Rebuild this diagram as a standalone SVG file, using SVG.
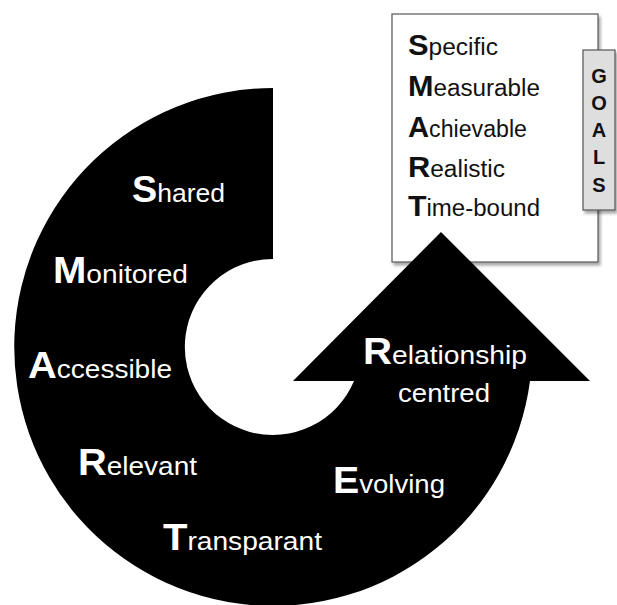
<svg xmlns="http://www.w3.org/2000/svg" width="617" height="605" viewBox="0 0 617 605">
  <defs>
    <filter id="softShadow" x="-10%" y="-10%" width="130%" height="130%">
      <feDropShadow dx="2" dy="3" stdDeviation="1.8" flood-color="#000" flood-opacity="0.35"/>
    </filter>
  </defs>
  <style>
    .box { fill: #ffffff; stroke: #555555; stroke-width: 1.2; }
    .tab { fill: #dedede; stroke: #555555; stroke-width: 1.2; }
    .ring { fill: #000000; }
    .goal { font-family: "Liberation Sans", Arial, sans-serif; font-size: 23px; fill: #111111; }
    .goal .cap { font-size: 29px; font-weight: bold; }
    .tabtxt { font-family: "Liberation Sans", Arial, sans-serif; font-size: 20px; font-weight: bold; fill: #111111; text-anchor: middle; }
    .lbl { font-family: "Liberation Sans", Arial, sans-serif; font-size: 26px; fill: #ffffff; }
    .lbl .cap { font-size: 37px; font-weight: bold; }
  </style>

  <!-- SMART goals card -->
  <g id="smart-goals">
    <rect class="box" x="392" y="14" width="206" height="248" filter="url(#softShadow)"/>
    <text class="goal" x="408" y="55" textLength="90" lengthAdjust="spacingAndGlyphs"><tspan class="cap">S</tspan>pecific</text>
    <text class="goal" x="408" y="96" textLength="132" lengthAdjust="spacingAndGlyphs"><tspan class="cap">M</tspan>easurable</text>
    <text class="goal" x="408" y="137" textLength="119" lengthAdjust="spacingAndGlyphs"><tspan class="cap">A</tspan>chievable</text>
    <text class="goal" x="408" y="177" textLength="97" lengthAdjust="spacingAndGlyphs"><tspan class="cap">R</tspan>ealistic</text>
    <text class="goal" x="408" y="216" textLength="132" lengthAdjust="spacingAndGlyphs"><tspan class="cap">T</tspan>ime-bound</text>
  </g>

  <!-- GOALS side tab -->
  <g id="goals-tab">
    <rect class="tab" x="583" y="50" width="32" height="160" filter="url(#softShadow)"/>
    <text class="tabtxt" x="599" y="83">G</text>
    <text class="tabtxt" x="599" y="110">O</text>
    <text class="tabtxt" x="599" y="137">A</text>
    <text class="tabtxt" x="599" y="164">L</text>
    <text class="tabtxt" x="599" y="192">S</text>
  </g>

  <!-- Circular arrow: ring from top, round the left and bottom, ending in an upward head -->
  <g id="cycle-arrow">
    <path class="ring" d="M 273 88 A 259 259 0 1 0 530 381 L 590 381 L 441 232 L 293 381 L 354 381 A 88 88 0 1 1 273 259 Z"/>
    <text class="lbl" x="132" y="202" textLength="93" lengthAdjust="spacingAndGlyphs"><tspan class="cap">S</tspan>hared</text>
    <text class="lbl" x="53" y="283" textLength="135" lengthAdjust="spacingAndGlyphs"><tspan class="cap">M</tspan>onitored</text>
    <text class="lbl" x="28" y="378" textLength="144" lengthAdjust="spacingAndGlyphs"><tspan class="cap">A</tspan>ccessible</text>
    <text class="lbl" x="78" y="475" textLength="119" lengthAdjust="spacingAndGlyphs"><tspan class="cap">R</tspan>elevant</text>
    <text class="lbl" x="163" y="550" textLength="159" lengthAdjust="spacingAndGlyphs"><tspan class="cap">T</tspan>ransparant</text>
    <text class="lbl" x="333" y="493" textLength="112" lengthAdjust="spacingAndGlyphs"><tspan class="cap">E</tspan>volving</text>
    <text class="lbl" x="363" y="364" textLength="164" lengthAdjust="spacingAndGlyphs"><tspan class="cap">R</tspan>elationship</text>
    <text class="lbl" x="398" y="402" textLength="92" lengthAdjust="spacingAndGlyphs">centred</text>
  </g>
</svg>
